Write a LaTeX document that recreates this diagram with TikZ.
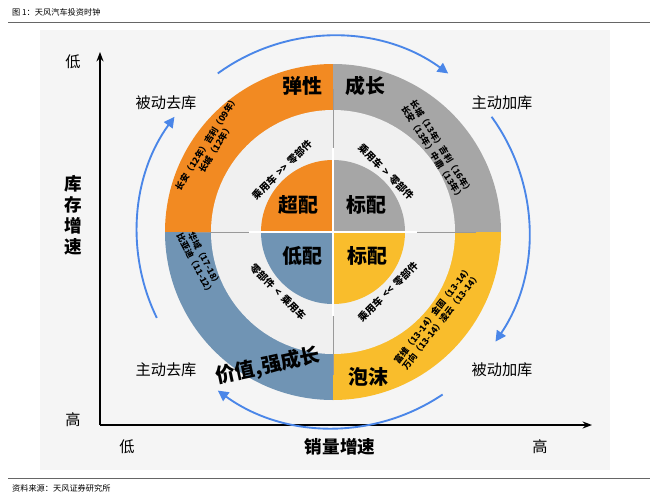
\documentclass[tikz,border=0pt]{standalone}
\usepackage{fontspec}
\setmainfont{Noto Sans CJK SC}
\usetikzlibrary{arrows.meta}
\definecolor{qorange}{HTML}{F28A22}
\definecolor{qgray}{HTML}{A6A6A6}
\definecolor{qblue}{HTML}{7094B4}
\definecolor{qyellow}{HTML}{F9BD2C}
\definecolor{ringbg}{HTML}{F0F0F0}
\definecolor{arcblue}{HTML}{4A86E8}
\tikzset{
  big/.style={font=\bfseries\fontsize{17}{17}\selectfont},
  mid/.style={font=\fontsize{8.5}{9}\selectfont\bfseries, align=center},
  tiny/.style={font=\fontsize{7.5}{9}\selectfont\bfseries, align=center},
  phase/.style={font=\fontsize{13}{13}\selectfont},
  clock/.style={arcblue, line width=1.6pt, -{Triangle[length=9pt,width=9pt]}},
}
\begin{document}
\begin{tikzpicture}[x=0.03cm,y=0.03cm]
  \useasboundingbox (0,0) rectangle (660,-500);
  % Kopf und Fuss
  \fill[white] (0,0) rectangle (660,-500);
  \node[anchor=west, font=\fontsize{7}{7}\selectfont] (titel) at (8,-12) {图 1：天风汽车投资时钟};
  \draw[black!60] (8,-22) -- (650,-22);
  \fill[black!4] (40,-30) rectangle (610,-470);
  \draw[black!60] (8,-478) -- (650,-478);
  \node[anchor=west, font=\fontsize{7}{7}\selectfont] (quelle) at (8,-488) {资料来源：天风证券研究所};
  % Achsen
  \coordinate (ursprung) at (100,-425);
  \coordinate (yende) at (100,-52);
  \coordinate (xende) at (592,-425);
  \draw[line width=1.2pt, -{Stealth[length=8pt]}] (ursprung) -- (yende);
  \draw[line width=1.2pt, -{Stealth[length=8pt]}] (ursprung) -- (xende);
  \node[phase] (ylow) at (73,-62) {低};
  \node[phase] (yhigh) at (73,-420) {高};
  \node[font=\bfseries\fontsize{15}{18}\selectfont, align=center] (ylab) at (73,-215) {库\\存\\增\\速};
  \node[phase] (xlow) at (127,-447) {低};
  \node[phase] (xhigh) at (540,-447) {高};
  \node[font=\bfseries\fontsize{15}{15}\selectfont] (xlab) at (340,-447) {销量增速};
  % Uhr, Mitte
  \coordinate (m) at (333,-232);
  % aeusserer Ring
  \fill[qorange] (m) -- ++(90:168) arc (90:180:168) -- cycle;
  \fill[qgray] (m) -- ++(0:168) arc (0:90:168) -- cycle;
  \fill[qblue] (m) -- ++(180:168) arc (180:270:168) -- cycle;
  \fill[qyellow] (m) -- ++(270:168) arc (270:360:168) -- cycle;
  % mittlerer Ring
  \fill[ringbg] (m) circle (122);
  % innere Scheibe
  \fill[qorange] (m) -- ++(90:72) arc (90:180:72) -- cycle;
  \fill[qgray] (m) -- ++(0:72) arc (0:90:72) -- cycle;
  \fill[qblue] (m) -- ++(180:72) arc (180:270:72) -- cycle;
  \fill[qyellow] (m) -- ++(270:72) arc (270:360:72) -- cycle;
  \draw[black!40, line width=0.5pt] ([yshift=122]m) -- ([yshift=-122]m);
  \draw[black!40, line width=0.5pt] ([xshift=-122]m) -- ([xshift=122]m);
  \draw[white, line width=1pt] ([yshift=72]m) -- ([yshift=-72]m);
  \draw[white, line width=1pt] ([xshift=-72]m) -- ([xshift=72]m);
  % innere Texte
  \node[big] (ueber) at (298,-205) {超配};
  \node[big] (stdoben) at (366,-205) {标配};
  \node[big] (unter) at (302,-256) {低配};
  \node[big] (stdunten) at (367,-256) {标配};
  % mittlerer Ring, Texte
  \node[mid, rotate=45] (tl) at (282,-170) {乘用车 \,{>}{>}\, 零部件};
  \node[mid, rotate=-45] (tr) at (386,-172) {乘用车 \,{>}\, 零部件};
  \node[mid, rotate=-45] (bl) at (278,-292) {零部件 \,{<}\, 乘用车};
  \node[mid, rotate=45] (br) at (388,-292) {乘用车 \,{<}{<}\, 零部件};
  % aeusserer Ring, Texte
  \node[big] (elast) at (302,-86) {弹性};
  \node[big] (wachs) at (365,-86) {成长};
  \node[big, rotate=12] (wert) at (268,-366) {价值,强成长};
  \node[big] (blase) at (368,-377) {泡沫};
  \node[tiny, rotate=58] (tlt) at (211,-146) {长安（12年）吉利（09年）\\长城（12年）};
  \node[tiny, rotate=-58] (trt) at (437,-150) {长城（13年）吉利（16年）\\长安（13年）中鼎（13年）};
  \node[tiny, rotate=-62] (blt) at (200,-262) {华域（17-18）\\比亚迪（11-12）};
  \node[tiny, rotate=52] (brt) at (437,-318) {富维（13-14）金固（13-14）\\万向（13-14）凌云（13-14）};
  % Phasen
  \node[phase] (p1) at (166,-103) {被动去库};
  \node[phase] (p2) at (502,-103) {主动加库};
  \node[phase] (p3) at (166,-370) {主动去库};
  \node[phase] (p4) at (502,-370) {被动加库};
  % Pfeile im Uhrzeigersinn
  \draw[clock] (m) ++(126:196) arc (126:54:196);
  \draw[clock] (m) ++(36:196) arc (36:-34:196);
  \draw[clock] (m) ++(-56:196) arc (-56:-126:196);
  \draw[clock] (m) ++(-154:196) arc (-154:-216:196);
\end{tikzpicture}
\end{document}
